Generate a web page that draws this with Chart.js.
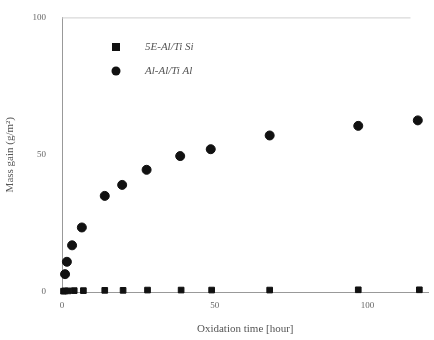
<!DOCTYPE html>
<html>
<head>
<meta charset="utf-8">
<script src="https://cdn.jsdelivr.net/npm/chart.js@4"></script>
<style>
  html, body { margin: 0; padding: 0; background: #fff; }
  #wrap { width: 434px; height: 340px; }
</style>
</head>
<body>
<div id="wrap"><canvas id="c" width="434" height="340"></canvas></div>
<script>
// ── Data ──────────────────────────────────────────────────
const timesA = [0.5, 1, 2, 4, 7, 14, 20, 28, 39, 49, 68, 97, 117];
const gainA  = [0.3, 0.4, 0.4, 0.5, 0.5, 0.6, 0.6, 0.7, 0.7, 0.7, 0.7, 0.8, 0.8];
const timesB = [1, 1.6, 3.3, 6.5, 14, 19.7, 27.7, 38.7, 48.7, 68, 97, 116.5];
const gainB  = [6.5, 11, 17, 23.5, 35, 39, 44.5, 49.5, 52, 57, 60.5, 62.5];
const seriesNames = ['5E-Al/Ti Si', 'Al-Al/Ti Al'];
const xTicks = [0, 50, 100];
const yTicks = [0, 50, 100];

const font = '"Liberation Serif", "DejaVu Serif", serif';

// custom legend drawn inside the plot, upper-left
const legendPlugin = {
  id: 'innerLegend',
  afterDraw(chart) {
    const { ctx } = chart;
    const rows = [[116, 47, 'rect'], [116, 71, 'circle']];
    ctx.save();
    rows.forEach(([x, y, shape], i) => {
      ctx.fillStyle = '#111';
      ctx.beginPath();
      if (shape === 'rect') ctx.rect(x - 4, y - 4, 8, 8);
      else ctx.arc(x, y, 4.5, 0, Math.PI * 2);
      ctx.fill();
      ctx.font = 'italic 11px ' + font;
      ctx.fillStyle = '#555';
      ctx.textBaseline = 'middle';
      ctx.fillText(seriesNames[i], 145, y);
    });
    // faint top frame line
    const a = chart.chartArea;
    ctx.strokeStyle = '#cfcfcf';
    ctx.lineWidth = 1;
    ctx.beginPath();
    ctx.moveTo(a.left, a.top + 0.5);
    ctx.lineTo(a.right - 18, a.top + 0.5);
    ctx.stroke();
    ctx.restore();
  },
};

new Chart(document.getElementById('c'), {
  type: 'scatter',
  data: {
    datasets: [
      {
        label: seriesNames[0],
        data: timesA.map((t, i) => ({ x: t, y: gainA[i] })),
        pointStyle: 'rect',
        pointRadius: 4,
        backgroundColor: '#111',
        borderColor: '#111',
      },
      {
        label: seriesNames[1],
        data: timesB.map((t, i) => ({ x: t, y: gainB[i] })),
        pointStyle: 'circle',
        pointRadius: 4.5,
        backgroundColor: '#111',
        borderColor: '#111',
      },
    ],
  },
  options: {
    responsive: false,
    animation: false,
    clip: false,
    layout: { padding: { top: 17, right: 0, left: 0, bottom: 0 } },
    plugins: { legend: { display: false }, tooltip: { enabled: false } },
    scales: {
      x: {
        type: 'linear',
        min: 0,
        max: 120,
        afterBuildTicks: (s) => { s.ticks = xTicks.map((v) => ({ value: v })); },
        afterFit: (s) => { s.height = 48; },
        grid: { display: false, tickLength: 4 },
        border: { color: '#999', width: 1 },
        ticks: { color: '#666', font: { family: font, size: 9 }, padding: 4 },
        title: {
          display: true,
          text: 'Oxidation time [hour]',
          color: '#555',
          font: { family: font, size: 11 },
          padding: { top: 6 },
        },
      },
      y: {
        type: 'linear',
        min: 0,
        max: 100,
        afterBuildTicks: (s) => { s.ticks = yTicks.map((v) => ({ value: v })); },
        afterFit: (s) => { s.width = 62; },
        grid: { display: false, tickLength: 4 },
        border: { color: '#999', width: 1 },
        ticks: { color: '#666', font: { family: font, size: 9 }, padding: 12 },
        title: {
          display: true,
          text: 'Mass gain (g/m²)',
          color: '#555',
          font: { family: font, size: 11 },
          padding: { bottom: 8 },
        },
      },
    },
  },
  plugins: [legendPlugin],
});
</script>
</body>
</html>
